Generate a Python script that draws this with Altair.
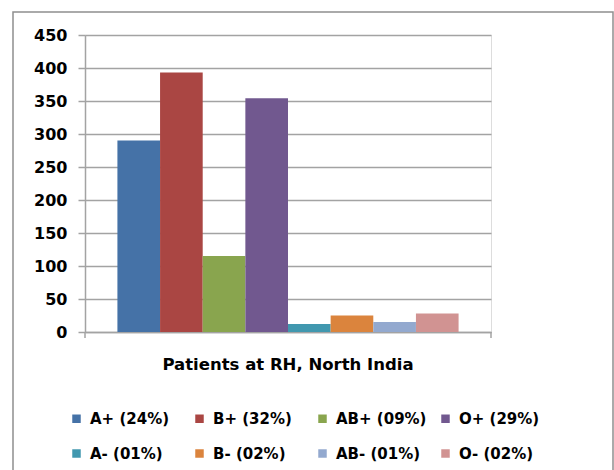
import altair as alt
import pandas as pd

groups = ["A+ (24%)", "B+ (32%)", "AB+ (09%)", "O+ (29%)",
          "A- (01%)", "B- (02%)", "AB- (01%)", "O- (02%)"]
values = [290, 393, 115, 354, 12, 25, 15, 28]
colors = ["#4572A7", "#AA4643", "#89A54E", "#71588F",
          "#4198AF", "#DB843D", "#93A9CF", "#D19392"]
category = "Patients at RH, North India"
y_ticks = [0, 50, 100, 150, 200, 250, 300, 350, 400, 450]

df = pd.DataFrame({"cat": [category] * len(groups), "group": groups, "value": values})

FONT = "DejaVu Sans"
GRID = "#a3a3a3"

bars = alt.Chart(df).mark_bar(stroke=None).encode(
    x=alt.X("cat:N", title=None,
            scale=alt.Scale(paddingOuter=0.095, paddingInner=0),
            axis=alt.Axis(ticks=False, domain=True, domainColor=GRID, domainWidth=1.5,
                          labelAngle=0, labelFont=FONT, labelFontSize=16.5,
                          labelFontWeight="bold", labelColor="#000000",
                          labelPadding=24, labelLimit=400)),
    xOffset=alt.XOffset("group:N", sort=groups,
                        scale=alt.Scale(paddingInner=0, paddingOuter=0)),
    y=alt.Y("value:Q", title=None,
            scale=alt.Scale(domain=[0, 450], nice=False),
            axis=alt.Axis(values=y_ticks, grid=True, gridColor=GRID, gridWidth=1.5,
                          tickColor=GRID, tickWidth=1.5, tickSize=7,
                          domainColor=GRID, domainWidth=1.5,
                          labelFont=FONT, labelFontSize=16, labelFontWeight="bold",
                          labelColor="#000000", labelPadding=11)),
    color=alt.Color("group:N", sort=groups,
                    scale=alt.Scale(domain=groups, range=colors),
                    legend=alt.Legend(title=None, orient="none", legendX=-16, legendY=376,
                                      direction="horizontal", columns=4, gridAlign="all",
                                      columnPadding=11, rowPadding=19,
                                      symbolType="square", symbolSize=72,
                                      symbolStrokeWidth=0, labelOffset=6,
                                      labelFont=FONT, labelFontSize=15,
                                      labelFontWeight="bold", labelColor="#000000")),
)

ends = alt.Chart(alt.Data(values=[{"e": 0}, {"e": 1}])).mark_rule(
    color=GRID, strokeWidth=1.5
).encode(
    x=alt.X("e:Q", scale=alt.Scale(domain=[0, 1]), axis=None),
    y=alt.value(297),
    y2=alt.value(303),
)

frame = alt.Chart(alt.Data(values=[{"f": 1}])).mark_rect(
    filled=False, stroke="#8f8f8f", strokeWidth=1.5
).encode(
    x=alt.value(-72), x2=alt.value(528), y=alt.value(-23), y2=alt.value(450)
)

chart = alt.layer(frame, bars, ends).resolve_scale(x="independent").properties(
    width=406, height=297,
    autosize=alt.AutoSizeParams(type="none"),
    padding={"left": 85, "top": 35, "right": 123, "bottom": 138},
).configure_view(stroke=None).configure(background="white")

chart.save("out.html", embed_options={"renderer": "svg", "actions": False})
